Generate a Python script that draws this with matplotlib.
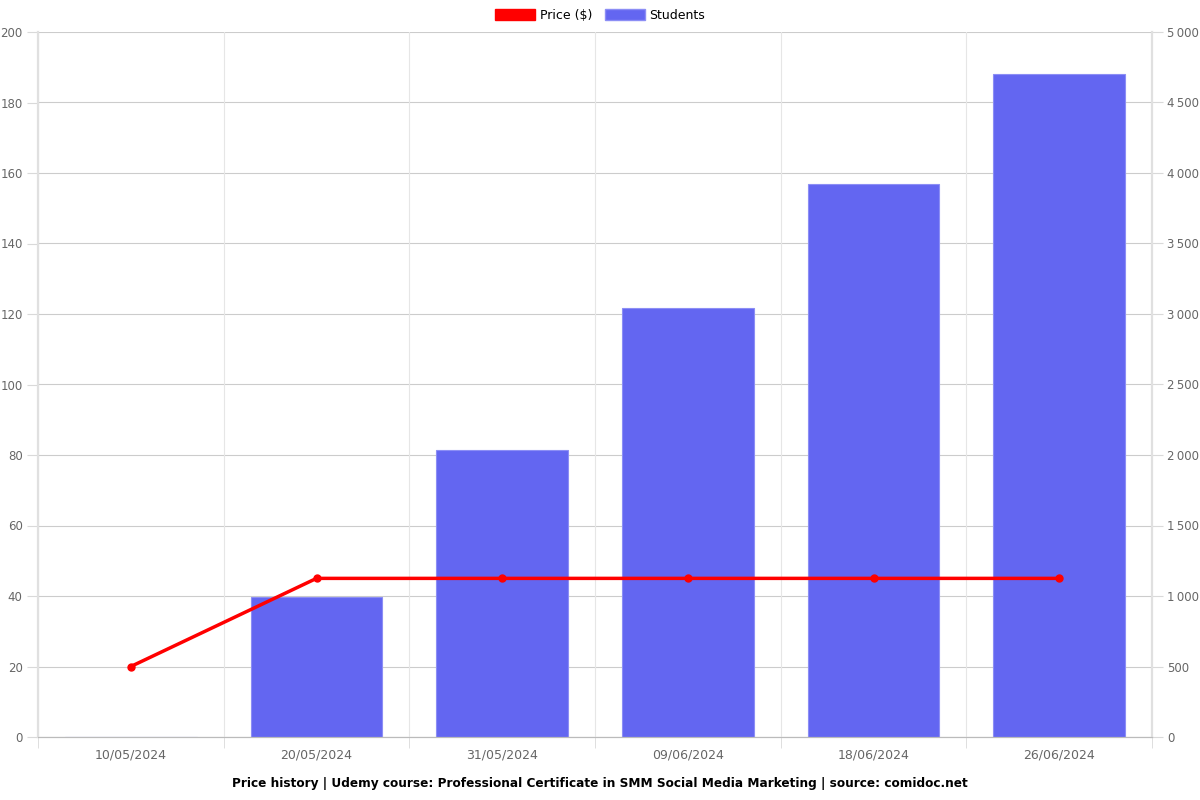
import matplotlib.pyplot as plt
from matplotlib.patches import Patch
from matplotlib.ticker import FuncFormatter

dates = ["10/05/2024", "20/05/2024", "31/05/2024", "09/06/2024", "18/06/2024", "26/06/2024"]
price = [20, 45, 45, 45, 45, 45]
students = [0, 993, 2035, 3043, 3922, 4702]

bar_color = "#6366f1"
line_color = "#ff0000"
grid_color = "#d9d9d9"
text_color = "#666666"

fig = plt.figure(figsize=(12, 8), dpi=100)
ax = fig.add_axes([38 / 1200, 1 - 737 / 800, (1152 - 38) / 1200, (737 - 32) / 800])
ax2 = ax.twinx()

x = list(range(len(dates)))
ax2.bar(x, students, width=0.71, color=bar_color, edgecolor="#8c8ef5", linewidth=0.8, zorder=2)
ax.plot(x, price, color=line_color, linewidth=2.5, marker="o", markersize=5, zorder=5)

ax.set_zorder(ax2.get_zorder() + 1)
ax.patch.set_visible(False)

ax.set_xlim(-0.5, len(dates) - 0.5)
ax.set_ylim(0, 200)
ax2.set_ylim(0, 5000)
ax.set_yticks(range(0, 201, 20))
ax2.set_yticks(range(0, 5001, 500))
ax2.yaxis.set_major_formatter(FuncFormatter(lambda v, p: f"{int(v):,}".replace(",", "\u2009")))

ax.set_xticks(x)
ax.set_xticklabels(dates)
ax.set_xticks([i - 0.5 for i in range(len(dates) + 1)], minor=True)
ax.tick_params(axis="x", which="major", length=0, pad=8, labelsize=9, labelcolor=text_color)
ax.tick_params(axis="x", which="minor", length=8, color=grid_color)
ax.tick_params(axis="y", length=8, color=grid_color, labelsize=8.5, labelcolor=text_color, pad=3)
ax2.tick_params(axis="y", length=8, color=grid_color, labelsize=8.5, labelcolor=text_color, pad=3)

ax2.grid(axis="y", color="#cccccc", linewidth=0.8, zorder=0)
ax2.set_axisbelow(True)
ax.grid(axis="x", which="minor", color="#e6e6e6", linewidth=0.8)

for a in (ax, ax2):
    a.spines["top"].set_visible(False)
    a.spines["left"].set_color("#e0e0e0")
    a.spines["right"].set_color("#e0e0e0")
    a.spines["bottom"].set_color("#bbbbbb")
    a.spines["left"].set_linewidth(1.5)
    a.spines["right"].set_linewidth(1.5)

handles = [
    Patch(facecolor=line_color, edgecolor=line_color, label="Price ($)"),
    Patch(facecolor=bar_color, edgecolor="#8c8ef5", label="Students"),
]
fig.legend(handles=handles, loc="upper center", bbox_to_anchor=(0.5, 1.003), ncol=2, frameon=False,
           fontsize=9, handlelength=3.2, handleheight=1.0, columnspacing=1.0, handletextpad=0.4)

fig.text(0.5, 1 - 783 / 800, "Price history | Udemy course: Professional Certificate in SMM Social Media Marketing | source: comidoc.net",
         ha="center", va="center", fontsize=8.7, fontweight="bold")

fig.savefig("out.png", dpi=100)
